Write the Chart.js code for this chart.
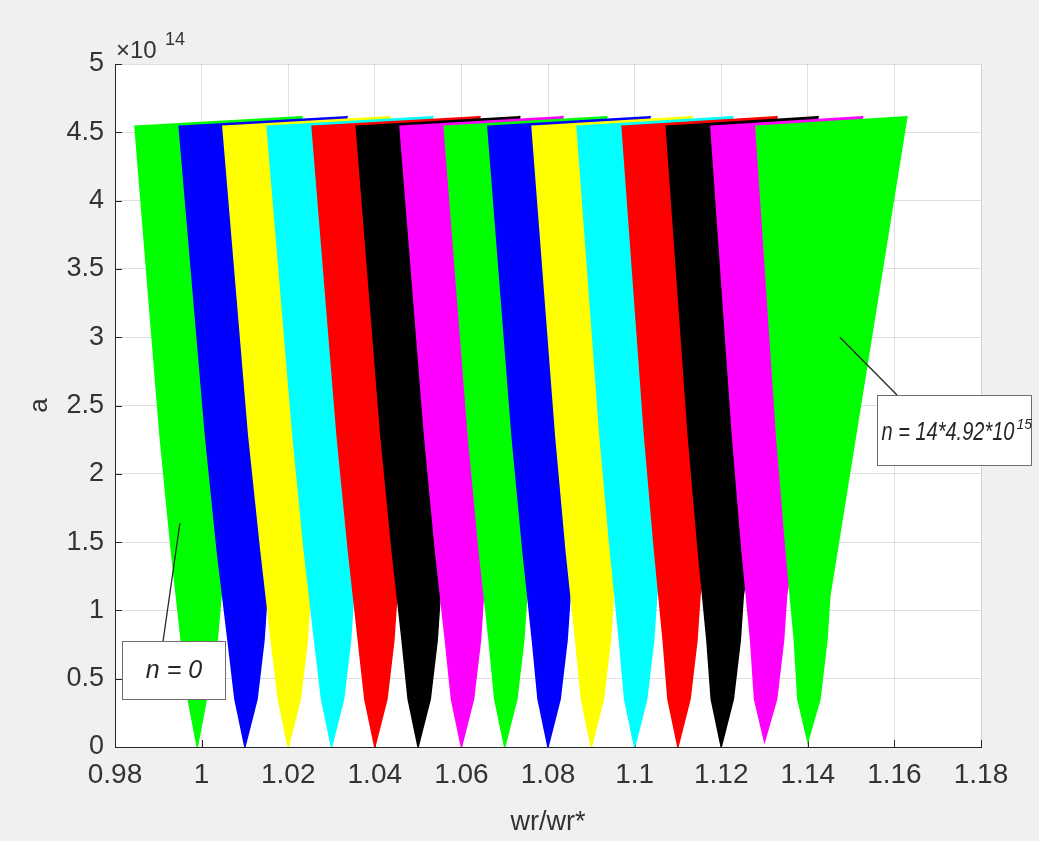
<!DOCTYPE html>
<html lang="en">
  <head>
    <meta charset="utf-8" />
    <title>a vs wr/wr*</title>
    <style>
      * {
        margin: 0;
        padding: 0;
      }
      body {
        background: #f0f0f0;
      }
      canvas {
        display: block;
      }
    </style>
  </head>
  <body>
    <canvas id="myChart" width="1039" height="841"></canvas>

    <script src="https://cdn.jsdelivr.net/npm/chart.js"></script>
    <script>
      // one filled wedge per n = 0 .. 14, a is in units of 1e14
      const wedgeColors = [
        "#00ff00", "#0000ff", "#ffff00", "#00ffff", "#ff0000", "#000000", "#ff00ff",
        "#00ff00", "#0000ff", "#ffff00", "#00ffff", "#ff0000", "#000000", "#ff00ff",
        "#00ff00",
      ];
      const tipX = [0.999, 1.01, 1.02, 1.03, 1.04, 1.05, 1.06, 1.07, 1.08, 1.09, 1.1, 1.11, 1.12, 1.13, 1.14];
      const tipA = [0, 0, 0, 0, 0, 0, 0, 0, 0, 0, 0, 0, 0, 0.04, 0.04];
      // left edge, read at a = 4.55, 2.28, 1.44, 0.78, 0.35
      const leftTopX = [0.9846, 0.9948, 1.0049, 1.0151, 1.0255, 1.0357, 1.0458, 1.056, 1.0661, 1.0763, 1.0867, 1.0971, 1.1073, 1.1176, 1.128];
      const leftMidX = [0.9904, 1.0009, 1.0109, 1.0211, 1.0313, 1.0414, 1.0515, 1.0616, 1.0717, 1.0818, 1.092, 1.1023, 1.1124, 1.1226, 1.1328];
      const leftHalfX = [0.993, 1.0036, 1.0137, 1.0237, 1.0339, 1.044, 1.054, 1.0641, 1.0742, 1.0842, 1.0944, 1.1046, 1.1147, 1.1248, 1.135];
      const leftLowX = [0.9953, 1.0061, 1.0161, 1.0261, 1.0362, 1.0463, 1.0563, 1.0664, 1.0764, 1.0864, 1.0965, 1.1066, 1.1167, 1.1268, 1.1369];
      const leftFootX = [0.9969, 1.0077, 1.0177, 1.0277, 1.0377, 1.0477, 1.0577, 1.0677, 1.0777, 1.0877, 1.0977, 1.1077, 1.1177, 1.1277, 1.1377];
      // right edge, read at a = 0.35, 0.78, 1.11, 4.62
      const rightFootX = [1.0011, 1.0128, 1.0228, 1.0328, 1.0428, 1.0528, 1.0628, 1.0728, 1.0828, 1.0928, 1.1028, 1.1128, 1.1228, 1.1328, 1.1428];
      const rightLowX = [1.0036, 1.0144, 1.0244, 1.0344, 1.0444, 1.0544, 1.0644, 1.0744, 1.0844, 1.0944, 1.1044, 1.1144, 1.1244, 1.1344, 1.1444];
      const rightKneeX = [1.0045, 1.0151, 1.0251, 1.0351, 1.0451, 1.0551, 1.0651, 1.0751, 1.0851, 1.0951, 1.1051, 1.1151, 1.1251, 1.1351, 1.1451];
      const rightTopX = [1.0232, 1.0336, 1.0435, 1.0534, 1.0643, 1.0735, 1.0835, 1.0936, 1.1036, 1.1133, 1.1227, 1.1329, 1.1424, 1.1527, 1.1629];
      const leftLevelsA = [4.55, 2.28, 1.44, 0.78, 0.35];
      const rightLevelsA = [0.35, 0.78, 1.11, 4.62];

      const xTickValues = [0.98, 1, 1.02, 1.04, 1.06, 1.08, 1.1, 1.12, 1.14, 1.16, 1.18];
      const xTickLabels = ["0.98", "1", "1.02", "1.04", "1.06", "1.08", "1.1", "1.12", "1.14", "1.16", "1.18"];
      const yTickValues = [0, 0.5, 1, 1.5, 2, 2.5, 3, 3.5, 4, 4.5, 5];
      const yTickLabels = ["0", "0.5", "1", "1.5", "2", "2.5", "3", "3.5", "4", "4.5", "5"];

      // text boxes: [x0, x1, a top, a bottom], arrow from box to point
      const noteZero = { text: "n = 0", box: [0.9816, 1.0054, 0.776, 0.351], arrow: [0.9911, 0.776, 0.995, 1.64] };
      const noteLast = { text: "n = 14*4.92*10", sup: "15", box: [1.156, 1.1916, 2.577, 2.064], arrow: [1.1606, 2.577, 1.1474, 3.0] };

      const fontFamily = "'Liberation Sans', Arial, sans-serif";
      const textColor = "#333333";

      // data block
      const datasets = tipX.map((tx, n) => ({
        label: "n = " + n,
        data: [
          { x: leftTopX[n], y: leftLevelsA[0] },
          { x: leftMidX[n], y: leftLevelsA[1] },
          { x: leftHalfX[n], y: leftLevelsA[2] },
          { x: leftLowX[n], y: leftLevelsA[3] },
          { x: leftFootX[n], y: leftLevelsA[4] },
          { x: tx, y: tipA[n] },
          { x: rightFootX[n], y: rightLevelsA[0] },
          { x: rightLowX[n], y: rightLevelsA[1] },
          { x: rightKneeX[n], y: rightLevelsA[2] },
          { x: rightTopX[n], y: rightLevelsA[3] },
        ],
        showLine: true,
        fill: "shape",
        backgroundColor: wedgeColors[n],
        borderColor: wedgeColors[n],
        borderWidth: 1.5,
        pointRadius: 0,
        pointHoverRadius: 0,
        tension: 0,
        order: tipX.length - 1 - n, // later wedges on top
      }));

      // matlab-like frame: grey figure, white axes, inward ticks, notes
      const matlabFrame = {
        id: "matlabFrame",
        beforeDraw(chart) {
          const { ctx, chartArea } = chart;
          ctx.save();
          ctx.fillStyle = "#f0f0f0";
          ctx.fillRect(0, 0, chart.width, chart.height);
          ctx.fillStyle = "#ffffff";
          ctx.fillRect(chartArea.left, chartArea.top, chartArea.width, chartArea.height);
          ctx.restore();
        },
        beforeDatasetsDraw(chart) {
          const {
            ctx,
            chartArea,
            scales: { x, y },
          } = chart;
          ctx.save();
          ctx.strokeStyle = "#262626";
          ctx.lineWidth = 1;
          ctx.beginPath();
          xTickValues.forEach((v) => {
            const px = Math.round(x.getPixelForValue(v)) + 0.5;
            ctx.moveTo(px, chartArea.bottom);
            ctx.lineTo(px, chartArea.bottom - 7);
          });
          yTickValues.forEach((v) => {
            const py = Math.round(y.getPixelForValue(v)) + 0.5;
            ctx.moveTo(chartArea.left, py);
            ctx.lineTo(chartArea.left + 7, py);
          });
          ctx.stroke();
          ctx.restore();
        },
        afterDraw(chart) {
          const {
            ctx,
            chartArea,
            scales: { x, y },
          } = chart;
          ctx.save();

          // exponent label
          ctx.fillStyle = textColor;
          ctx.textBaseline = "alphabetic";
          ctx.textAlign = "left";
          ctx.font = "24px " + fontFamily;
          ctx.fillText("\u00d710", chartArea.left + 1, chartArea.top - 6);
          ctx.font = "18px " + fontFamily;
          ctx.fillText("14", chartArea.left + 50, chartArea.top - 19);

          const drawNote = (note, font, drawText) => {
            const [x0, x1, a0, a1] = note.box;
            const [ax0, ay0, ax1, ay1] = note.arrow;
            ctx.strokeStyle = "#262626";
            ctx.lineWidth = 1.3;
            ctx.beginPath();
            ctx.moveTo(x.getPixelForValue(ax0), y.getPixelForValue(ay0));
            ctx.lineTo(x.getPixelForValue(ax1), y.getPixelForValue(ay1));
            ctx.stroke();
            const bx = Math.round(x.getPixelForValue(x0)) + 0.5;
            const by = Math.round(y.getPixelForValue(a0)) + 0.5;
            const bw = Math.round(x.getPixelForValue(x1) - x.getPixelForValue(x0));
            const bh = Math.round(y.getPixelForValue(a1) - y.getPixelForValue(a0));
            ctx.fillStyle = "#ffffff";
            ctx.fillRect(bx, by, bw, bh);
            ctx.strokeStyle = "#6e6e6e";
            ctx.lineWidth = 1;
            ctx.strokeRect(bx, by, bw, bh);
            ctx.fillStyle = "#262626";
            ctx.font = font;
            drawText(bx, by, bw, bh);
          };

          drawNote(noteZero, "italic 25px " + fontFamily, (bx, by, bw, bh) => {
            ctx.textAlign = "center";
            ctx.textBaseline = "middle";
            ctx.fillText(noteZero.text, bx + bw / 2, by + bh / 2 + 1);
          });
          drawNote(noteLast, "italic 25px " + fontFamily, (bx, by, bw, bh) => {
            ctx.textAlign = "left";
            ctx.textBaseline = "alphabetic";
            const tx = bx + 4;
            const ty = by + bh / 2 + 9;
            ctx.fillText(noteLast.text, tx, ty, 133);
            ctx.font = "italic 14px " + fontFamily;
            ctx.fillText(noteLast.sup, tx + 135, ty - 11);
          });

          ctx.restore();
        },
      };

      // config block
      const config = {
        type: "scatter",
        data: { datasets },
        options: {
          responsive: false,
          devicePixelRatio: 1,
          animation: false,
          layout: {
            padding: { top: 64, right: 58, left: 0, bottom: 0 },
          },
          plugins: {
            legend: { display: false },
            tooltip: { enabled: false },
          },
          scales: {
            x: {
              type: "linear",
              min: 0.98,
              max: 1.18,
              afterBuildTicks: (scale) => {
                scale.ticks = xTickValues.map((v) => ({ value: v }));
              },
              afterFit: (scale) => {
                scale.height = 94;
              },
              ticks: {
                autoSkip: false,
                maxRotation: 0,
                padding: 11,
                color: textColor,
                font: { size: 28, family: fontFamily },
                callback: (value, index) => xTickLabels[index],
              },
              grid: { color: "rgba(38, 38, 38, 0.15)", drawTicks: false },
              border: { color: "#262626", width: 1 },
              title: {
                display: true,
                text: "wr/wr*",
                color: textColor,
                font: { size: 27, family: fontFamily },
                padding: { top: 0, bottom: 2 },
              },
            },
            y: {
              type: "linear",
              min: 0,
              max: 5,
              afterBuildTicks: (scale) => {
                scale.ticks = yTickValues.map((v) => ({ value: v }));
              },
              afterFit: (scale) => {
                scale.width = 115;
              },
              ticks: {
                autoSkip: false,
                padding: 11,
                color: textColor,
                font: { size: 27, family: fontFamily },
                callback: (value, index) => yTickLabels[index],
              },
              grid: { color: "rgba(38, 38, 38, 0.15)", drawTicks: false },
              border: { color: "#262626", width: 1 },
              title: {
                display: true,
                text: "a",
                color: textColor,
                font: { size: 26, family: fontFamily },
                padding: { top: 24, bottom: 0 },
              },
            },
          },
        },
        plugins: [matlabFrame],
      };

      // init render block
      const myChart = new Chart(document.getElementById("myChart"), config);
    </script>
  </body>
</html>
